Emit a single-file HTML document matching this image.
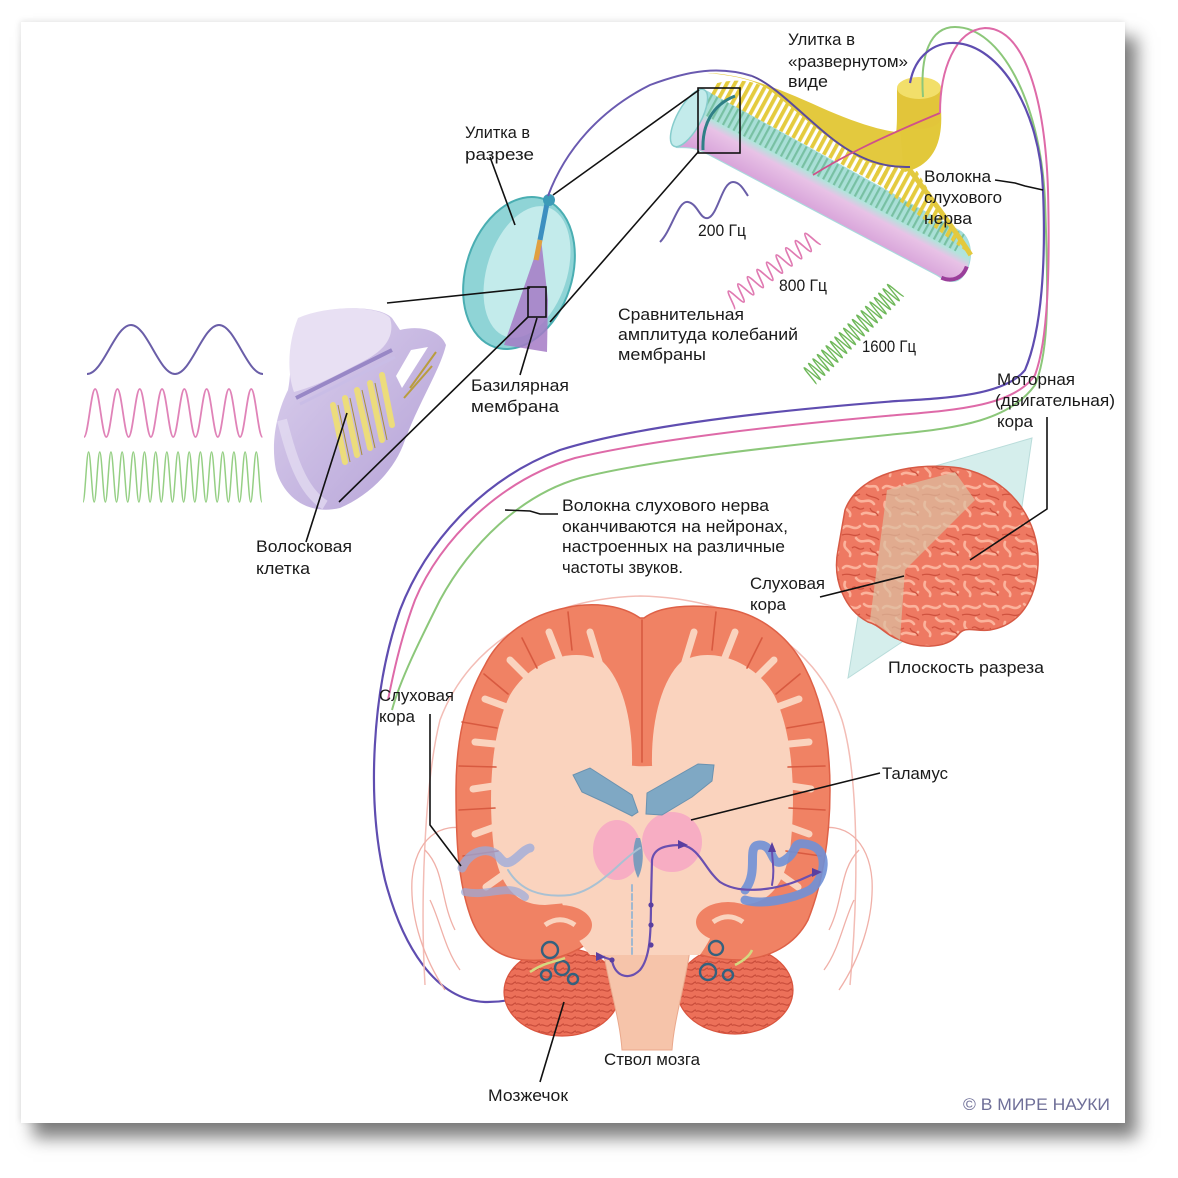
<!DOCTYPE html>
<html><head><meta charset="utf-8"><style>
html,body{margin:0;padding:0;background:#fff;width:1178px;height:1178px;overflow:hidden}
#card{position:absolute;left:21px;top:22px;width:1104px;height:1101px;background:#fff;box-shadow:12px 15px 16px rgba(0,0,0,0.5),-1px -1px 6px rgba(0,0,0,0.1)}
svg{position:absolute;left:0;top:0}
text{font-family:"Liberation Sans",sans-serif;font-size:17px;fill:#1a1a1a}
</style></head><body>
<div id="card"></div>
<svg width="1178" height="1178" viewBox="0 0 1178 1178">
<defs>
<linearGradient id="tube" gradientUnits="userSpaceOnUse" x1="0" y1="-30" x2="0" y2="26">
<stop offset="0" stop-color="#9fdfe2"/><stop offset="0.4" stop-color="#b2e4dc"/><stop offset="0.55" stop-color="#e8c2e6"/><stop offset="1" stop-color="#d7a2d9"/></linearGradient>
<linearGradient id="lav" x1="0" y1="0" x2="1" y2="1"><stop offset="0" stop-color="#ddd2ee"/><stop offset="1" stop-color="#b3a0d6"/></linearGradient>
<pattern id="fib" width="7" height="120" patternUnits="userSpaceOnUse"><rect width="3.8" height="120" fill="#e4cb3e"/></pattern>
<pattern id="gst" width="6" height="40" patternUnits="userSpaceOnUse"><rect width="6" height="40" fill="#a9dfd6"/><rect width="2.2" height="40" fill="#6fba98"/></pattern>
<pattern id="gy" width="40" height="40" patternUnits="userSpaceOnUse"><rect width="40" height="40" fill="#ee7962"/>
<g stroke="#fbb39c" stroke-width="2.6" fill="none" stroke-linecap="round"><path d="M3 8C8 2 14 12 20 6"/><path d="M24 4C30 10 36 2 38 10"/><path d="M5 22C2 30 12 30 10 36"/><path d="M16 18C22 26 28 16 34 24"/><path d="M22 34C28 30 34 38 38 32"/></g>
<g stroke="#cf513e" stroke-width="1.3" fill="none"><path d="M2 15C10 12 14 18 20 14"/><path d="M26 14C30 18 36 16 39 20"/><path d="M12 28C16 24 18 32 24 28"/><path d="M30 28C32 34 36 30 38 36"/></g></pattern>
<pattern id="cb" width="12" height="7" patternUnits="userSpaceOnUse"><rect width="12" height="7" fill="#ec7059"/><path d="M0 3.5C3 1 6 6 9 3.5S12 2 12 3.5" stroke="#c94d3b" stroke-width="1.2" fill="none"/></pattern>
</defs>

<!-- left waves -->
<path d="M87 374C103 374 115 325 131 325S159 374 175 374S203 325 219 325S247 374 263 374" stroke="#6a5ea8" stroke-width="2" fill="none"/>
<path d="M84 437c4.06 0 7.09-48 11.15-48
s7.09 48 11.15 48s7.09-48 11.15-48
s7.09 48 11.15 48s7.09-48 11.15-48
s7.09 48 11.15 48s7.09-48 11.15-48
s7.09 48 11.15 48s7.09-48 11.15-48
s7.09 48 11.15 48s7.09-48 11.15-48
s7.09 48 11.15 48s7.09-48 11.15-48
s7.09 48 11.15 48s7.09-48 11.15-48
s7.09 48 11.15 48" stroke="#e083b8" stroke-width="1.8" fill="none"/>
<path d="M83 502c2.03 0 3.56-50 5.59-50
s3.56 50 5.59 50s3.56-50 5.59-50
s3.56 50 5.59 50s3.56-50 5.59-50
s3.56 50 5.59 50s3.56-50 5.59-50
s3.56 50 5.59 50s3.56-50 5.59-50
s3.56 50 5.59 50s3.56-50 5.59-50
s3.56 50 5.59 50s3.56-50 5.59-50
s3.56 50 5.59 50s3.56-50 5.59-50
s3.56 50 5.59 50s3.56-50 5.59-50
s3.56 50 5.59 50s3.56-50 5.59-50
s3.56 50 5.59 50s3.56-50 5.59-50
s3.56 50 5.59 50s3.56-50 5.59-50
s3.56 50 5.59 50s3.56-50 5.59-50
s3.56 50 5.59 50s3.56-50 5.59-50
s3.56 50 5.59 50s3.56-50 5.59-50
s3.56 50 5.59 50s3.56-50 5.59-50
s3.56 50 5.59 50" stroke="#95cf84" stroke-width="1.5" fill="none"/>

<!-- hair cell organ -->
<path d="M300 318C330 305 380 305 392 318L400 330C420 325 440 330 446 345C440 370 420 400 405 440C395 470 370 495 340 508C310 515 285 500 276 470C270 440 278 410 288 390C292 370 290 340 300 318Z" fill="url(#lav)"/>
<path d="M298 318C330 304 380 306 390 318C396 338 382 352 362 362C340 373 320 385 294 392C286 370 289 340 298 318Z" fill="#e8e0f3"/>
<path d="M282 420C290 450 300 490 325 505" stroke="#e6def2" stroke-width="10" fill="none" opacity="0.7"/>
<path d="M296 398L392 350" stroke="#9887c6" stroke-width="4"/>
<path d="M300 404L395 357" stroke="#c9bde6" stroke-width="3"/>
<polygon points="396,376 411,350 428,347 402,388" fill="#fff"/>
<g stroke="#b99d3e" stroke-width="2"><line x1="410" y1="388" x2="436" y2="352"/><line x1="404" y1="398" x2="432" y2="366"/></g>
<g stroke="#ecdc7c" stroke-width="6" stroke-linecap="round"><line x1="333" y1="405" x2="345" y2="462"/><line x1="345" y1="398" x2="357" y2="455"/><line x1="357" y1="390" x2="370" y2="448"/><line x1="370" y1="383" x2="382" y2="440"/><line x1="382" y1="375" x2="392" y2="425"/></g>
<g stroke="#a99038" stroke-width="1"><line x1="338" y1="405" x2="350" y2="462"/><line x1="350" y1="398" x2="362" y2="455"/><line x1="362" y1="390" x2="375" y2="448"/><line x1="375" y1="383" x2="387" y2="440"/></g>

<!-- cochlea in section -->
<ellipse cx="519" cy="273" rx="53" ry="78" transform="rotate(18 519 273)" fill="#8fd4d6" stroke="#4aaeb2" stroke-width="2"/>
<ellipse cx="527" cy="272" rx="40" ry="68" transform="rotate(18 527 272)" fill="#cdeeee" opacity="0.85"/>
<polygon points="541,238 504,345 547,352 548,300" fill="#a57ac6" opacity="0.85"/>
<path d="M548 198L540 240" stroke="#3d8fc0" stroke-width="5"/>
<path d="M540 240L536 260" stroke="#e0a040" stroke-width="5"/>
<circle cx="549" cy="200" r="6" fill="#3c9bb8"/>

<!-- unrolled cochlea -->
<path d="M895 140C897 130 897 120 897 110L941 110C943 140 935 165 905 172L895 165Z" fill="#e2c83a"/>
<g transform="translate(697 120) rotate(28.5)">
<path d="M-5 -30L285 -28C300 -26 312 -6 308 12C305 22 295 23 285 22L20 25C5 27 0 32 -5 34Z" fill="url(#tube)" stroke="#a6dcdc" stroke-width="1"/>
<path d="M0 -30L290 -27L290 -8L0 -8Z" fill="url(#gst)" opacity="0.85"/>
<path d="M0 -30L200 -30L200 -45C150 -44 100 -52 60 -60C40 -64 20 -60 0 -42Z" fill="url(#fib)"/>
<path d="M-14 -46C10 -58 40 -66 102 -70C140 -73 165 -78 185 -86L202 -60C190 -48 175 -44 158 -44C120 -46 90 -54 50 -61C30 -63 10 -56 -14 -46Z" fill="#e3c93e"/>
<path d="M172 -46L218 -60C250 -40 285 -25 305 -12L200 -28Z" fill="url(#fib)"/>
<path d="M210 -58C245 -42 280 -26 305 -12" stroke="#e3c93e" stroke-width="5" fill="none"/>
<ellipse cx="-8" cy="2" rx="12" ry="32" fill="#c3ebeb" stroke="#86cccc" stroke-width="1.5"/>
<path d="M307 0C309 12 302 21 290 22" stroke="#9a3f9a" stroke-width="4" fill="none"/>
</g>
<path d="M897 88L897 118A22 11 0 0 0 941 118L941 88Z" fill="#e2c53a"/>
<ellipse cx="919" cy="88" rx="22" ry="11" fill="#f2df6a"/>
<path d="M703 150C702 125 712 105 735 96" stroke="#2f7f86" stroke-width="3" fill="none"/>
<path d="M752 76C775 85 800 113 830 137C855 157 880 168 910 167" stroke="#5b4b9c" stroke-width="2" fill="none"/>
<path d="M813 175C840 158 875 140 940 113" stroke="#d0508a" stroke-width="1.8" fill="none"/>

<!-- small waves -->
<path d="M660 242C672 230 678 200 688 202C698 204 700 220 708 218C718 215 722 182 733 182C740 182 744 190 748 196" stroke="#6a5ea8" stroke-width="2" fill="none"/>
<g transform="translate(729 302) rotate(-37)"><path d="M0 9c2.18 0 3.82-18 6-18
s3.82 18 6 18s3.82-18 6-18
s3.82 18 6 18s3.82-18 6-18
s3.82 18 6 18s3.82-18 6-18
s3.82 18 6 18s3.82-18 6-18
s3.82 18 6 18s3.82-18 6-18
s3.82 18 6 18s3.82-18 6-18
s3.82 18 6 18s3.82-18 6-18
s3.82 18 6 18s3.82-18 6-18
s3.82 18 6 18" stroke="#e07bb2" stroke-width="1.7" fill="none"/></g>
<g transform="translate(809 377) rotate(-45)"><path d="M0 10c1.13 0 1.97-20 3.1-20
s1.97 20 3.1 20s1.97-20 3.1-20
s1.97 20 3.1 20s1.97-20 3.1-20
s1.97 20 3.1 20s1.97-20 3.1-20
s1.97 20 3.1 20s1.97-20 3.1-20
s1.97 20 3.1 20s1.97-20 3.1-20
s1.97 20 3.1 20s1.97-20 3.1-20
s1.97 20 3.1 20s1.97-20 3.1-20
s1.97 20 3.1 20s1.97-20 3.1-20
s1.97 20 3.1 20s1.97-20 3.1-20
s1.97 20 3.1 20s1.97-20 3.1-20
s1.97 20 3.1 20s1.97-20 3.1-20
s1.97 20 3.1 20s1.97-20 3.1-20
s1.97 20 3.1 20s1.97-20 3.1-20
s1.97 20 3.1 20s1.97-20 3.1-20
s1.97 20 3.1 20s1.97-20 3.1-20
s1.97 20 3.1 20s1.97-20 3.1-20
s1.97 20 3.1 20s1.97-20 3.1-20
s1.97 20 3.1 20s1.97-20 3.1-20
s1.97 20 3.1 20s1.97-20 3.1-20
s1.97 20 3.1 20" stroke="#6fb85a" stroke-width="1.4" fill="none"/></g>

<!-- lateral brain -->
<polygon points="848,678 880,482 1032,438 1020,520 905,640" fill="#d5eeec" stroke="#b9dcda" stroke-width="1"/>
<path d="M845 510C860 470 920 462 960 468C1010 478 1040 520 1038 565C1036 600 1020 625 990 630C975 632 965 625 958 635C945 650 915 648 900 640C885 635 880 625 868 622C845 610 832 580 838 550Z" fill="url(#gy)" stroke="#d65a45" stroke-width="1.5"/>
<path d="M887 490L955 472L975 500L935 540L905 570L900 640L870 620Z" fill="#dcc0a2" opacity="0.7"/>

<!-- nerve curves -->
<path d="M548 196C565 150 600 110 650 85C690 70 720 66 752 76" stroke="#6a5ab0" stroke-width="2" fill="none"/>
<path d="M923 97C920 55 930 27 955 27C1000 27 1040 100 1045 200C1048 290 1050 350 1035 385C1010 420 960 428 897 434C780 446 650 460 580 478C520 495 470 545 440 600C420 640 400 680 392 710" stroke="#8cc77a" stroke-width="2" fill="none"/>
<path d="M940 113C940 70 955 30 985 28C1025 28 1045 100 1048 190C1050 270 1048 340 1035 375C1015 405 960 410 897 415C780 425 650 440 575 458C500 480 440 540 415 600C400 640 392 680 388 700" stroke="#de6aa8" stroke-width="2" fill="none"/>
<path d="M910 83C915 55 935 42 955 43C1000 45 1040 110 1043 190C1046 260 1042 330 1025 370C1005 395 950 398 897 401C780 410 640 425 560 450C480 480 425 545 400 610C372 690 366 800 385 880C402 945 435 1000 485 1002C535 1003 570 975 600 956" stroke="#5f4db0" stroke-width="2.2" fill="none"/>

<!-- coronal skull/ears -->
<path d="M425 985C420 900 425 780 440 720C470 640 550 598 640 596C735 598 815 640 842 720C860 780 858 900 850 985" stroke="#f3bdb6" stroke-width="1.5" fill="none"/>
<g stroke="#f0b0a8" stroke-width="1.3" fill="none"><path d="M470 830C440 820 415 840 412 880C410 920 425 960 445 990"/><path d="M425 850C445 870 440 900 455 930"/><path d="M430 900C440 920 445 950 460 970"/><path d="M814 830C844 820 869 840 872 880C874 920 859 960 839 990"/><path d="M859 850C839 870 844 900 829 930"/><path d="M854 900C844 920 839 950 824 970"/></g>

<!-- coronal brain -->
<ellipse cx="562" cy="992" rx="58" ry="44" fill="url(#cb)" stroke="#d9553f" stroke-width="1.2"/>
<ellipse cx="735" cy="990" rx="58" ry="44" fill="url(#cb)" stroke="#d9553f" stroke-width="1.2"/>
<path d="M603 950C610 990 620 1020 622 1050L672 1050C674 1020 684 990 690 950Z" fill="#f6c4aa" stroke="#eaa88c" stroke-width="1"/>
<path d="M640 618C620 604 590 602 565 608C530 615 500 635 485 665C465 700 456 740 456 790C456 840 458 880 470 915C480 945 500 958 525 960C550 962 570 955 585 945L600 950L685 950C700 955 715 960 740 960C770 958 795 945 808 920C822 885 830 840 830 790C830 740 822 700 805 668C790 638 760 612 720 608C690 604 660 606 644 618Z" fill="#f08264" stroke="#de6147" stroke-width="1.5"/>
<g fill="#fad3be">
<path d="M632 765C633 720 622 680 603 662C575 645 530 660 510 695C490 735 488 800 494 850C500 885 515 905 545 905L600 900Z"/>
<path d="M652 765C651 720 662 680 681 662C709 645 754 660 774 695C794 735 796 800 790 850C784 885 769 905 739 905L684 900Z"/>
<path d="M600 755C620 770 665 770 690 755L730 820C735 870 725 920 700 955L590 955C560 920 550 870 555 820Z"/>
</g>
<g stroke="#fad3be" stroke-width="7" stroke-linecap="round">
<line x1="600" y1="665" x2="590" y2="632"/><line x1="560" y1="660" x2="549" y2="632"/><line x1="530" y1="680" x2="510" y2="660"/><line x1="515" y1="710" x2="485" y2="699"/><line x1="505" y1="745" x2="475" y2="742"/><line x1="500" y1="785" x2="473" y2="789"/><line x1="500" y1="825" x2="475" y2="834"/><line x1="510" y1="870" x2="486" y2="887"/>
<line x1="684" y1="665" x2="694" y2="632"/><line x1="724" y1="660" x2="735" y2="632"/><line x1="754" y1="680" x2="774" y2="660"/><line x1="769" y1="710" x2="799" y2="699"/><line x1="779" y1="745" x2="809" y2="742"/><line x1="784" y1="785" x2="811" y2="789"/><line x1="784" y1="825" x2="809" y2="834"/><line x1="774" y1="870" x2="798" y2="887"/>
</g>
<g stroke="#d85a40" stroke-width="1.6" stroke-linecap="round">
<line x1="642" y1="620" x2="642" y2="762"/>
<line x1="568" y1="612" x2="572" y2="650"/><line x1="522" y1="638" x2="537" y2="668"/><line x1="484" y1="674" x2="508" y2="694"/><line x1="462" y1="722" x2="497" y2="728"/><line x1="459" y1="766" x2="496" y2="767"/><line x1="459" y1="810" x2="495" y2="808"/><line x1="463" y1="856" x2="498" y2="851"/>
<line x1="716" y1="612" x2="712" y2="650"/><line x1="762" y1="638" x2="747" y2="668"/><line x1="800" y1="674" x2="776" y2="694"/><line x1="822" y1="722" x2="787" y2="728"/><line x1="825" y1="766" x2="788" y2="767"/><line x1="825" y1="810" x2="789" y2="808"/><line x1="821" y1="856" x2="786" y2="851"/>
</g>
<ellipse cx="560" cy="925" rx="32" ry="20" fill="#f08264"/>
<ellipse cx="728" cy="922" rx="32" ry="20" fill="#f08264"/>
<path d="M545 925C555 918 565 918 575 925" stroke="#fad3be" stroke-width="5" fill="none"/>
<path d="M713 922C723 915 733 915 743 922" stroke="#fad3be" stroke-width="5" fill="none"/>
<ellipse cx="617" cy="850" rx="24" ry="30" fill="#f6a6c4" opacity="0.85"/>
<ellipse cx="672" cy="842" rx="30" ry="30" fill="#f6a6c4" opacity="0.85"/>
<polygon points="573,775 590,768 632,795 638,812 632,816 606,803 582,792" fill="#7fa8c4" stroke="#6a92b0"/>
<polygon points="646,814 647,793 698,764 714,765 712,781 692,797 662,815" fill="#7fa8c4" stroke="#6a92b0"/>
<path d="M636 838C632 850 632 866 638 878C644 866 644 850 640 838Z" fill="#7c9cbc"/>
<g fill="none" stroke-linecap="round">
<path d="M462 868C470 850 490 845 500 858C510 872 520 850 530 848" stroke="#98aadc" stroke-width="9" opacity="0.75"/>
<path d="M465 892C490 897 510 882 525 897" stroke="#98aadc" stroke-width="8" opacity="0.7"/>
<path d="M745 890C760 870 745 845 760 845C775 845 770 870 785 860C800 850 790 840 810 845C830 850 825 880 810 890C790 900 760 905 745 900" stroke="#6f90d6" stroke-width="9" opacity="0.9"/>
<path d="M640 848C620 860 600 890 570 895C540 898 520 890 508 870" stroke="#a9c1d3" stroke-width="2"/>
<line x1="632" y1="885" x2="632" y2="955" stroke="#a0b8d0" stroke-width="2" stroke-dasharray="6 3"/>
<path d="M600 956L612 960C614 975 628 982 640 970C650 958 651 935 651 900L652 860C654 848 665 845 682 845C700 848 705 870 720 882C740 895 775 890 800 880L818 872" stroke="#6a4fb0" stroke-width="2.2"/>
<path d="M772 885C775 870 772 860 772 850" stroke="#6a4fb0" stroke-width="2"/>
</g>
<g fill="#5a3fa0"><circle cx="651" cy="905" r="2.6"/><circle cx="651" cy="925" r="2.6"/><circle cx="651" cy="945" r="2.6"/><circle cx="612" cy="960" r="2.6"/><polygon points="596,952 606,957 596,961"/><polygon points="678,840 688,845 678,849"/><polygon points="768,852 772,842 776,852"/><polygon points="812,868 822,872 812,877"/></g>
<g fill="none" stroke="#34617e" stroke-width="2.4"><circle cx="550" cy="950" r="8"/><circle cx="562" cy="968" r="7"/><circle cx="573" cy="979" r="5"/><circle cx="546" cy="975" r="5"/><circle cx="716" cy="948" r="7"/><circle cx="708" cy="972" r="8"/><circle cx="728" cy="975" r="5"/></g>
<path d="M530 972C545 962 555 962 565 958M735 965C745 960 750 955 752 950" stroke="#d5d880" stroke-width="2.5" fill="none"/>

<!-- boxes and leader lines -->
<g stroke="#111" stroke-width="1.6" fill="none">
<rect x="698" y="88" width="42" height="65"/>
<rect x="528" y="287" width="18" height="30"/>
<line x1="553" y1="195" x2="699" y2="90"/>
<line x1="550" y1="322" x2="699" y2="151"/>
<line x1="387" y1="303" x2="530" y2="288"/>
<line x1="339" y1="502" x2="528" y2="317"/>
<line x1="490" y1="157" x2="515" y2="225"/>
<line x1="520" y1="375" x2="537" y2="318"/>
<line x1="306" y1="542" x2="347" y2="413"/>
<path d="M995 180L1015 183L1025 186L1043 190"/>
<path d="M505 510L530 511L540 514L558 514"/>
<path d="M1047 417L1047 509L970 560"/>
<line x1="820" y1="597" x2="904" y2="576"/>
<path d="M430 714L430 825L461 866"/>
<line x1="691" y1="820" x2="880" y2="773"/>
<line x1="540" y1="1082" x2="564" y2="1002"/>
</g>

<!-- labels -->
<text x="465" y="138" textLength="65" lengthAdjust="spacingAndGlyphs">Улитка в</text>
<text x="465" y="160" textLength="69" lengthAdjust="spacingAndGlyphs">разрезе</text>
<text x="788" y="45" textLength="67" lengthAdjust="spacingAndGlyphs">Улитка в</text>
<text x="788" y="67" textLength="120" lengthAdjust="spacingAndGlyphs">«развернутом»</text>
<text x="788" y="87" textLength="40" lengthAdjust="spacingAndGlyphs">виде</text>
<text x="924" y="182" textLength="67" lengthAdjust="spacingAndGlyphs">Волокна</text>
<text x="924" y="203" textLength="78" lengthAdjust="spacingAndGlyphs">слухового</text>
<text x="924" y="224" textLength="48" lengthAdjust="spacingAndGlyphs">нерва</text>
<text x="698" y="236" textLength="48" lengthAdjust="spacingAndGlyphs">200 Гц</text>
<text x="779" y="291" textLength="48" lengthAdjust="spacingAndGlyphs">800 Гц</text>
<text x="862" y="352" textLength="54" lengthAdjust="spacingAndGlyphs">1600 Гц</text>
<text x="618" y="320" textLength="126" lengthAdjust="spacingAndGlyphs">Сравнительная</text>
<text x="618" y="340" textLength="180" lengthAdjust="spacingAndGlyphs">амплитуда колебаний</text>
<text x="618" y="360" textLength="88" lengthAdjust="spacingAndGlyphs">мембраны</text>
<text x="471" y="391" textLength="98" lengthAdjust="spacingAndGlyphs">Базилярная</text>
<text x="471" y="412" textLength="88" lengthAdjust="spacingAndGlyphs">мембрана</text>
<text x="256" y="552" textLength="96" lengthAdjust="spacingAndGlyphs">Волосковая</text>
<text x="256" y="574" textLength="54" lengthAdjust="spacingAndGlyphs">клетка</text>
<text x="997" y="385" textLength="78" lengthAdjust="spacingAndGlyphs">Моторная</text>
<text x="995" y="406" textLength="120" lengthAdjust="spacingAndGlyphs">(двигательная)</text>
<text x="997" y="427">кора</text>
<text x="562" y="511" textLength="207" lengthAdjust="spacingAndGlyphs">Волокна слухового нерва</text>
<text x="562" y="532" textLength="226" lengthAdjust="spacingAndGlyphs">оканчиваются на нейронах,</text>
<text x="562" y="552" textLength="223" lengthAdjust="spacingAndGlyphs">настроенных на различные</text>
<text x="562" y="573" textLength="121" lengthAdjust="spacingAndGlyphs">частоты звуков.</text>
<text x="750" y="589" textLength="75" lengthAdjust="spacingAndGlyphs">Слуховая</text>
<text x="750" y="610">кора</text>
<text x="888" y="673" textLength="156" lengthAdjust="spacingAndGlyphs">Плоскость разреза</text>
<text x="379" y="701" textLength="75" lengthAdjust="spacingAndGlyphs">Слуховая</text>
<text x="379" y="722">кора</text>
<text x="882" y="779" textLength="66" lengthAdjust="spacingAndGlyphs">Таламус</text>
<text x="604" y="1065" textLength="96" lengthAdjust="spacingAndGlyphs">Ствол мозга</text>
<text x="488" y="1101" textLength="80" lengthAdjust="spacingAndGlyphs">Мозжечок</text>
<text x="963" y="1110" textLength="147" lengthAdjust="spacingAndGlyphs" style="fill:#6f6f98">© В МИРЕ НАУКИ</text>
</svg>
</body></html>
